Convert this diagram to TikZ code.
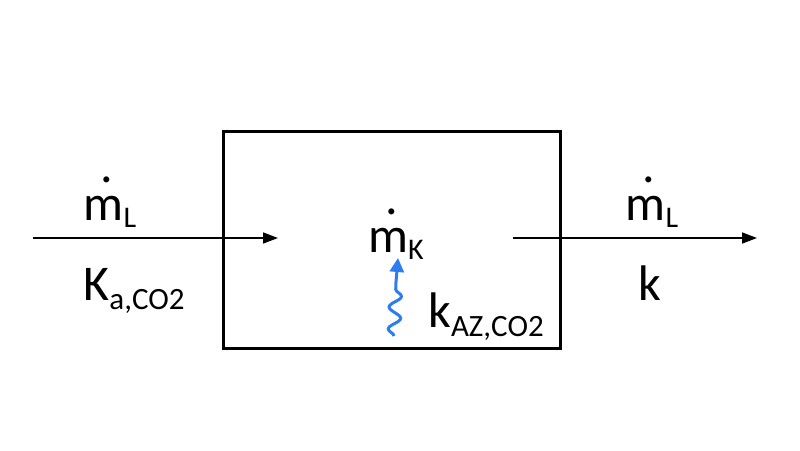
\documentclass[tikz,border=0pt]{standalone}
\usepackage{fontspec}
\setmainfont{Carlito}
\usetikzlibrary{arrows.meta,decorations.pathmorphing}
\definecolor{sq}{RGB}{45,125,240}
\newcommand{\mdot}{\makebox[0pt][l]{\hspace{0.34em}\raisebox{0.75em}{.}}m}
\begin{document}
\begin{tikzpicture}[x=1pt,y=-1pt,
  lbl/.style={inner sep=0pt,font=\fontsize{50}{52}\selectfont},
  flow/.style={line width=1.6pt,-{Triangle[length=15pt,width=11pt]}}]
\useasboundingbox (0,0) rectangle (800,450);
\node[draw,line width=3pt,minimum width=337pt,minimum height=217pt,inner sep=0pt] (box) at (391.5,239.5) {};
\coordinate (l0) at (33,238); \coordinate (l1) at (278,238);
\coordinate (r0) at (513,238); \coordinate (r1) at (757,238);
\draw[flow] (l0) -- (l1);
\draw[flow] (r0) -- (r1);
\node[lbl,anchor=base] (mL1) at (110,220) {\mdot\raisebox{-7pt}{\fontsize{30}{32}\selectfont L}};
\node[lbl,anchor=base] (Ka) at (134,300) {K\raisebox{-9pt}{\fontsize{31}{33}\selectfont a,CO2}};
\node[lbl,anchor=base] (mK) at (396,252) {\mdot\raisebox{-7pt}{\fontsize{30}{32}\selectfont K}};
\node[lbl,anchor=base] (mL2) at (652,220) {\mdot\raisebox{-7pt}{\fontsize{30}{32}\selectfont L}};
\node[lbl,anchor=base] (k) at (650,300) {k};
\node[lbl,anchor=base] (kAZ) at (486,327) {k\raisebox{-9pt}{\fontsize{31}{33}\selectfont AZ,CO2}};
\coordinate (s0) at (394,336); \coordinate (s1) at (396,282); \coordinate (s2) at (398,258);
\draw[sq,line width=3pt,decorate,decoration={snake,amplitude=6pt,segment length=22pt}] (s0) -- (s1);
\draw[sq,line width=3pt,-{Triangle[length=14pt,width=14pt]}] (s1) -- (s2);
\end{tikzpicture}
\end{document}
